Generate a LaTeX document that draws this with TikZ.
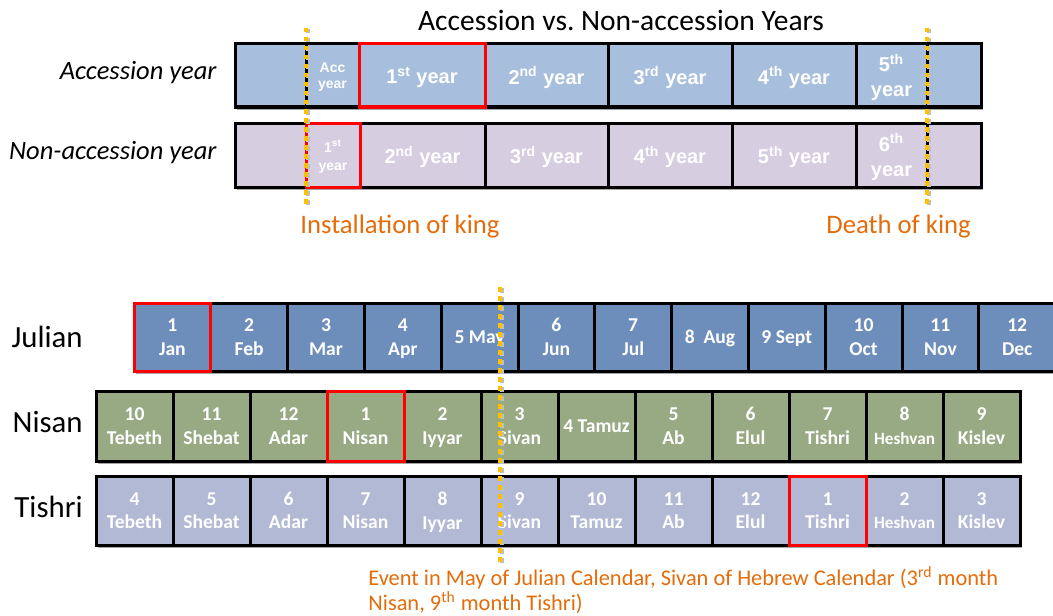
\documentclass[tikz,border=0pt]{standalone}
\usepackage{fontspec}
\setmainfont{Carlito}
\newfontfamily\arialfont{Liberation Sans}
\usetikzlibrary{shadows}
\definecolor{accblue}{RGB}{167,191,221}
\definecolor{nonlilac}{RGB}{214,205,225}
\definecolor{julblue}{RGB}{109,142,186}
\definecolor{nisgreen}{RGB}{152,170,132}
\definecolor{tishblue}{RGB}{177,185,213}
\definecolor{kingorange}{RGB}{228,108,10}
\definecolor{markgold}{RGB}{255,192,0}

\tikzset{
    cell/.style={draw=black, line width=1.5pt, inner sep=0pt, outer sep=0pt, anchor=west,
        align=center, text=white, text depth=0pt,
        drop shadow={shadow xshift=1.2pt, shadow yshift=-1.6pt, opacity=0.35, fill=black}},
    yearcell/.style={cell, minimum height=31.5pt},
    monthcell/.style={cell, minimum height=34pt, font=\bfseries\fontsize{9.8}{11.8}\selectfont},
    redbox/.style={draw=red, line width=1.5pt},
    markline/.style={markgold, line width=1.75pt, dash pattern=on 2.25pt off 2.25pt},
    markshadow/.style={black!25, line width=1.75pt, dash pattern=on 2.25pt off 2.25pt},
    rowlabel/.style={font=\itshape\fontsize{13.25}{15}\selectfont, inner sep=0pt},
    callabel/.style={font=\fontsize{15.4}{18}\selectfont, inner sep=0pt},
    kinglabel/.style={text=kingorange, font=\fontsize{13.35}{16}\selectfont, inner sep=0pt},
}

\begin{document}
\begin{tikzpicture}[x=0.5pt, y=-0.5pt]
    \clip (0, 0) rectangle (1053, 615);

    \node[font=\fontsize{14.75}{17}\selectfont] (title) at (621, 20) {Accession vs.\ Non-accession Years};

    % reign counted two ways
    \node[rowlabel, anchor=east] (acclabel) at (217, 73) {Accession year};
    \node[rowlabel, anchor=east] (nonlabel) at (217, 153) {Non-accession year};

    \foreach \l/\r/\fs/\bs/\txt [count=\i] in {235/306/10/12/{}, 306/359/7/8/{Acc\\year},
            359/485/10/12/{1\textsuperscript{st} year}, 485/608/10/12/{2\textsuperscript{nd} year},
            608/732/10/12/{3\textsuperscript{rd} year}, 732/856/10/12/{4\textsuperscript{th} year},
            856/927/10/12.5/{5\textsuperscript{th}\\year}, 927/981/10/12/{}}
        \node[yearcell, fill=accblue, minimum width={(\r-\l)*0.5pt},
            font=\arialfont\bfseries\fontsize{\fs}{\bs}\selectfont] (a\i) at (\l, 75.5) {\txt};

    \foreach \l/\r/\fs/\bs/\txt [count=\i] in {235/306/10/12/{}, 306/360/7/9/{1\textsuperscript{st}\\year},
            360/485/10/12/{2\textsuperscript{nd} year}, 485/608/10/12/{3\textsuperscript{rd} year},
            608/732/10/12/{4\textsuperscript{th} year}, 732/856/10/12/{5\textsuperscript{th} year},
            856/927/10/12.5/{6\textsuperscript{th}\\year}, 927/981/10/12/{}}
        \node[yearcell, fill=nonlilac, minimum height=32pt, minimum width={(\r-\l)*0.5pt},
            font=\arialfont\bfseries\fontsize{\fs}{\bs}\selectfont] (n\i) at (\l, 155) {\txt};

    \draw[redbox] (a3.south west) rectangle (a3.north east);
    \draw[redbox] (n2.south west) rectangle (n2.north east);

    \coordinate (installtop) at (306, 28);
    \coordinate (installbot) at (306, 205);
    \coordinate (deathtop) at (927, 28);
    \coordinate (deathbot) at (927, 205);
    \draw[markshadow] ([xshift=1pt, yshift=-0.5pt]installtop) -- ([xshift=1pt, yshift=-0.5pt]installbot);
    \draw[markshadow] ([xshift=1pt, yshift=-0.5pt]deathtop) -- ([xshift=1pt, yshift=-0.5pt]deathbot);
    \draw[markline] (installtop) -- (installbot);
    \draw[markline] (deathtop) -- (deathbot);

    \node[kinglabel, anchor=base west] (install) at (300, 233) {Installation of king};
    \node[kinglabel, anchor=base west] (death) at (826, 233) {Death of king};

    % the three calendars
    \node[callabel, anchor=east] (julianlabel) at (83, 337) {Julian};
    \node[callabel, anchor=east] (nisanlabel) at (83, 422) {Nisan};
    \node[callabel, anchor=east] (tishrilabel) at (83, 507) {Tishri};

    \foreach \txt [count=\i] in {{1\\Jan}, {2\\Feb}, {3\\Mar}, {4\\Apr}, {5 May}, {6\\Jun},
            {7\\Jul}, {8~ Aug}, {9 Sept}, {10\\Oct}, {11\\Nov}, {12\\Dec}}
        \node[monthcell, fill=julblue, minimum width=38.4pt] (j\i) at ({134+76.8*(\i-1)}, 337) {\txt};

    \foreach \txt [count=\i] in {{10\\Tebeth}, {11\\Shebat}, {12\\Adar}, {1\\Nisan}, {2\\Iyyar},
            {3\\Sivan}, {4 Tamuz}, {5\\Ab}, {6\\Elul}, {7\\Tishri},
            {8\\{\fontsize{8.6}{10}\selectfont Heshvan}}, {9\\Kislev}}
        \node[monthcell, fill=nisgreen, minimum width=38.5pt, minimum height=35pt] (h\i) at ({96+77*(\i-1)}, 426) {\txt};

    \foreach \txt [count=\i] in {{4\\Tebeth}, {5\\Shebat}, {6\\Adar}, {7\\Nisan}, {8\\Iyyar},
            {9\\Sivan}, {10\\Tamuz}, {11\\Ab}, {12\\Elul}, {1\\Tishri},
            {2\\{\fontsize{8.6}{10}\selectfont Heshvan}}, {3\\Kislev}}
        \node[monthcell, fill=tishblue, minimum width=38.5pt, minimum height=34.5pt] (t\i) at ({96+77*(\i-1)}, 510.5) {\txt};

    \draw[redbox] (j1.south west) rectangle (j1.north east);
    \draw[redbox] (h4.south west) rectangle (h4.north east);
    \draw[redbox] (t10.south west) rectangle (t10.north east);

    \coordinate (eventtop) at (500, 287);
    \coordinate (eventbot) at (500, 562);
    \draw[markshadow] ([xshift=1pt, yshift=-0.5pt]eventtop) -- ([xshift=1pt, yshift=-0.5pt]eventbot);
    \draw[markline] (eventtop) -- (eventbot);

    \node[kinglabel, anchor=base west, align=left, font=\fontsize{11.2}{12.25}\selectfont] (event) at (368, 610)
        {Event in May of Julian Calendar, Sivan of Hebrew Calendar (3\textsuperscript{rd} month\\
        Nisan, 9\textsuperscript{th} month Tishri)};
\end{tikzpicture}
\end{document}
